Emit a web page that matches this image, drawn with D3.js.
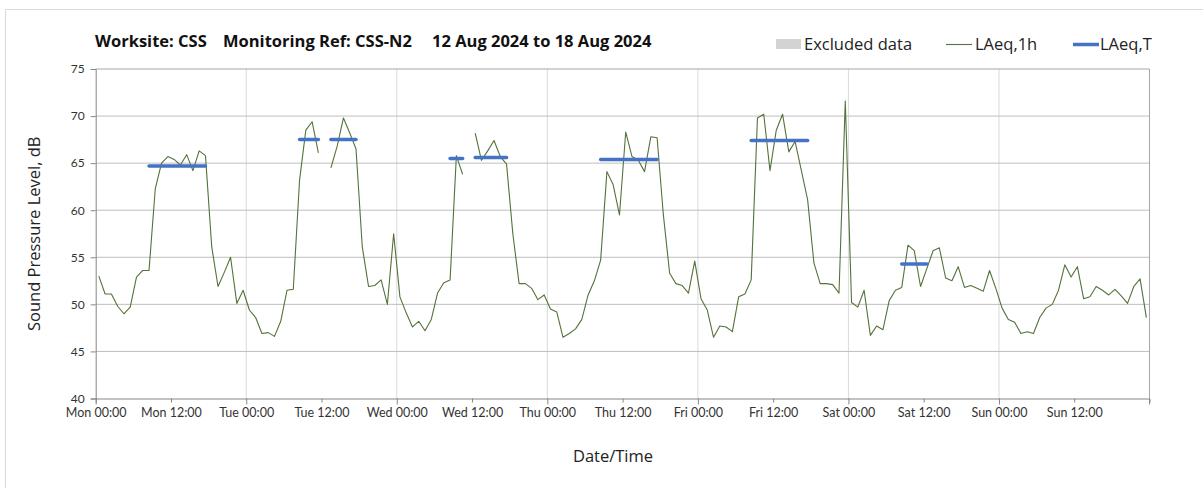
<!DOCTYPE html>
<html>
<head>
<meta charset="utf-8">
<script src="https://cdn.jsdelivr.net/npm/d3@7"></script>
<style>
  body { margin: 0; background: #fff; }
  svg { display: block; }
</style>
</head>
<body>
<script>
// hourly LAeq,1h values, Mon 12 Aug 00:00 onwards (null = no data)
const laeq1h = [
  53.0, 51.1, 51.1, 49.8, 49.0, 49.7, 52.9, 53.6, 53.6, 62.3, 65.0, 65.7, 65.4, 64.8, 65.9, 64.2, 66.3, 65.8, 56.1, 51.9, 53.4, 55.0, 50.1, 51.5,
  49.4, 48.6, 46.9, 47.0, 46.6, 48.2, 51.5, 51.6, 63.2, 68.5, 69.4, 66.1, null, 64.5, 66.8, 69.8, 68.2, 66.5, 56.1, 51.9, 52.0, 52.6, 50.0, 57.5,
  50.8, 49.1, 47.6, 48.2, 47.2, 48.4, 51.2, 52.3, 52.6, 65.8, 63.8, null, 68.2, 65.3, 66.3, 67.4, 65.7, 64.9, 57.5, 52.2, 52.2, 51.7, 50.5, 51.0,
  49.5, 49.2, 46.5, 46.9, 47.4, 48.4, 51.0, 52.5, 54.7, 64.1, 62.7, 59.5, 68.3, 65.7, 65.3, 64.1, 67.8, 67.7, 59.5, 53.3, 52.2, 52.0, 51.2, 54.6,
  50.6, 49.4, 46.5, 47.7, 47.6, 47.1, 50.8, 51.1, 52.6, 69.8, 70.2, 64.2, 68.5, 70.2, 66.2, 67.3, 64.2, 61.1, 54.4, 52.2, 52.2, 52.1, 51.2, 71.6,
  50.2, 49.7, 51.5, 46.7, 47.7, 47.3, 50.4, 51.5, 51.8, 56.3, 55.7, 51.9, 53.8, 55.7, 56.0, 52.8, 52.5, 54.0, 51.8, 52.0, 51.7, 51.4, 53.6, 51.7,
  49.6, 48.4, 48.1, 46.9, 47.1, 46.9, 48.6, 49.6, 50.0, 51.5, 54.2, 52.9, 54.0, 50.6, 50.8, 51.9, 51.5, 51.0, 51.6, 50.9, 50.1, 51.9, 52.7, 48.6
];

// LAeq,T periods: first hour, last hour (index into the hourly series), level
const periodStart = [8, 32, 37, 56, 60, 80, 104, 128];
const periodEnd   = [17, 35, 41, 58, 65, 89, 113, 132];
const periodLevel = [64.7, 67.5, 67.5, 65.5, 65.6, 65.4, 67.4, 54.3];

const yTicks = [40, 45, 50, 55, 60, 65, 70, 75];
const legendLabels = ["Excluded data", "LAeq,1h", "LAeq,T"];
const titleParts = ["Worksite: CSS", "Monitoring Ref: CSS-N2", "12 Aug 2024 to 18 Aug 2024"];

const W = 1203, H = 488;
const pLeft = 95.7, pRight = 1149.5, pTop = 69, pBottom = 398.5;

const start = new Date(2024, 7, 12, 0, 0);
const end = new Date(2024, 7, 19, 0, 0);
const hourTime = i => new Date(start.getTime() + (i + 0.5) * 3600e3);

const svg = d3.select("body").append("svg")
  .attr("width", W)
  .attr("height", H);

// outer frame
svg.append("path")
  .attr("d", `M5.5,${H} V9.5 H${W}`)
  .attr("fill", "none")
  .attr("stroke", "#d9d9d9");

const x = d3.scaleTime().domain([start, end]).range([pLeft, pRight]);
const y = d3.scaleLinear().domain([40, 75]).range([pBottom, pTop]);

const dayTicks = d3.timeDay.range(start, d3.timeDay.offset(end, 1));
const halfTicks = d3.timeHour.every(12).range(start, end);

// gridlines
svg.append("g").selectAll("line")
  .data(dayTicks.slice(1, -1))
  .enter().append("line")
  .attr("x1", d => x(d)).attr("x2", d => x(d))
  .attr("y1", pTop).attr("y2", pBottom)
  .attr("stroke", "#dadada").attr("stroke-width", 1);

svg.append("g").selectAll("line")
  .data(yTicks.slice(1))
  .enter().append("line")
  .attr("x1", pLeft).attr("x2", pRight)
  .attr("y1", d => y(d)).attr("y2", d => y(d))
  .attr("stroke", d => d === 75 ? "#a6a6a6" : "#bfbfbf").attr("stroke-width", 1);

// right border
svg.append("line")
  .attr("x1", pRight).attr("x2", pRight).attr("y1", pTop).attr("y2", pBottom)
  .attr("stroke", "#a6a6a6");

// y axis
const yAxis = svg.append("g")
  .attr("transform", `translate(${pLeft},0)`)
  .call(d3.axisLeft(y).tickValues(yTicks).tickSize(5).tickPadding(6));
yAxis.select(".domain").attr("stroke", "#868686");
yAxis.selectAll(".tick line").attr("stroke", "#868686");
yAxis.selectAll("text")
  .attr("font-family", "Lato, 'Open Sans', sans-serif")
  .attr("font-size", "12px")
  .attr("fill", "#333");

// x axis
const xAxis = svg.append("g")
  .attr("transform", `translate(0,${pBottom})`)
  .call(d3.axisBottom(x).tickValues(halfTicks).tickSize(4).tickPadding(6)
    .tickFormat(d3.timeFormat("%a %H:%M")));
xAxis.select(".domain").attr("stroke", "#868686");
xAxis.selectAll(".tick line").attr("stroke", "#868686")
  .attr("y2", d => d.getHours() === 0 ? 6 : 4);
xAxis.selectAll("text")
  .attr("font-family", "Lato, 'Open Sans', sans-serif")
  .attr("font-size", "12.5px")
  .attr("fill", "#333");
xAxis.append("line")
  .attr("x1", x(end)).attr("x2", x(end)).attr("y1", 0).attr("y2", 6)
  .attr("stroke", "#868686");

// LAeq,1h line
const series = laeq1h.map((v, i) => ({ t: hourTime(i), v: v }));
const line = d3.line()
  .defined(d => d.v != null)
  .x(d => x(d.t))
  .y(d => y(d.v));

svg.append("path")
  .datum(series)
  .attr("d", line)
  .attr("fill", "none")
  .attr("stroke", "#53733a")
  .attr("stroke-width", 1.1)
  .attr("stroke-linejoin", "round");

// LAeq,T segments
periodStart.forEach((s, k) => {
  const pts = d3.range(s, periodEnd[k] + 1).map(i => ({ t: hourTime(i), v: periodLevel[k] }));
  svg.append("path")
    .datum(pts)
    .attr("d", line)
    .attr("fill", "none")
    .attr("stroke", "#4472c4")
    .attr("stroke-width", 3.5)
    .attr("stroke-linecap", "round");
});

// title
const titleX = [95, 223, 432];
svg.append("g").selectAll("text")
  .data(titleParts)
  .enter().append("text")
  .attr("x", (d, i) => titleX[i])
  .attr("y", 47)
  .attr("font-family", "'Open Sans', sans-serif")
  .attr("font-weight", "bold")
  .attr("font-size", "16.5px")
  .attr("fill", "#111")
  .text(d => d);

// legend
const lg = svg.append("g").attr("font-family", "'Open Sans', sans-serif")
  .attr("font-size", "16.5px").attr("fill", "#222");
lg.append("rect").attr("x", 776).attr("y", 39).attr("width", 25).attr("height", 10)
  .attr("fill", "#d3d3d3");
lg.append("text").attr("x", 804).attr("y", 50).text(legendLabels[0]);
lg.append("line").attr("x1", 946).attr("x2", 972).attr("y1", 44.5).attr("y2", 44.5)
  .attr("stroke", "#53733a").attr("stroke-width", 1.1);
lg.append("text").attr("x", 975).attr("y", 50).text(legendLabels[1]);
lg.append("line").attr("x1", 1073).attr("x2", 1099).attr("y1", 44.5).attr("y2", 44.5)
  .attr("stroke", "#4472c4").attr("stroke-width", 3.5);
lg.append("text").attr("x", 1100).attr("y", 50).text(legendLabels[2]);

// axis titles
svg.append("text")
  .attr("transform", `translate(40,${(pTop + pBottom) / 2}) rotate(-90)`)
  .attr("text-anchor", "middle")
  .attr("font-family", "'Open Sans', sans-serif")
  .attr("font-size", "16.5px")
  .attr("fill", "#222")
  .text("Sound Pressure Level, dB");

svg.append("text")
  .attr("x", 613)
  .attr("y", 462)
  .attr("text-anchor", "middle")
  .attr("font-family", "'Open Sans', sans-serif")
  .attr("font-size", "16.5px")
  .attr("fill", "#222")
  .text("Date/Time");
</script>
</body>
</html>
